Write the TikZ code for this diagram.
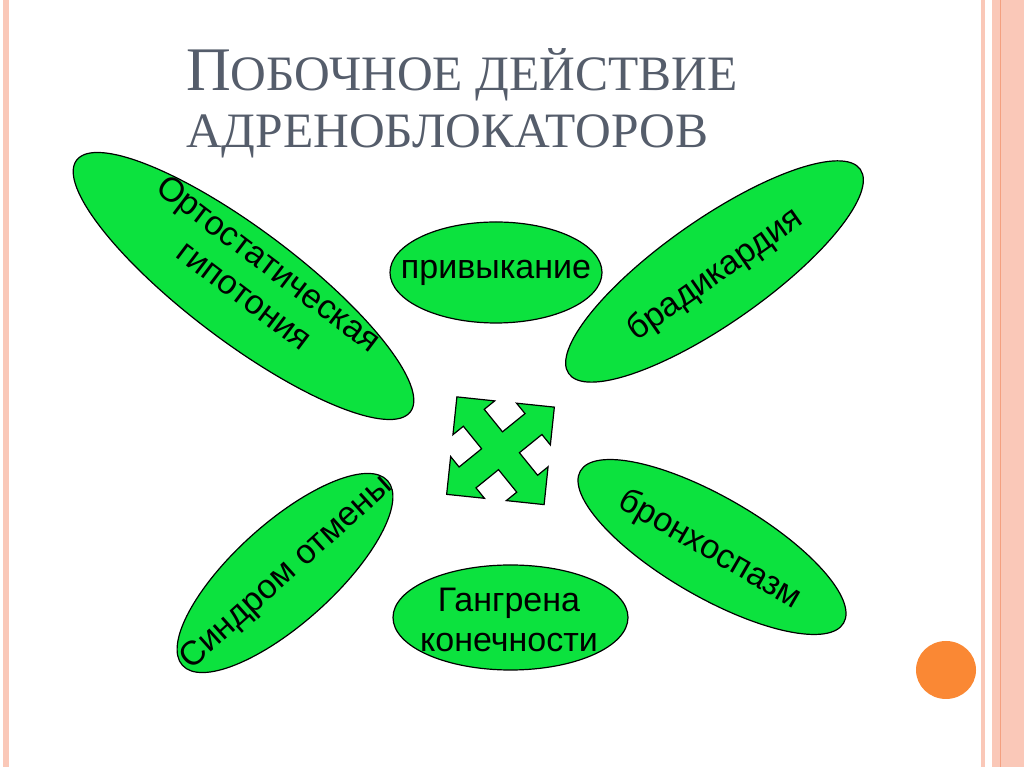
\documentclass[tikz,border=0pt]{standalone}
\usepackage{fontspec}
\setmainfont{Liberation Sans}
\newfontfamily\titlefont{Liberation Serif}
\usetikzlibrary{shapes.geometric}

\definecolor{leaf}{RGB}{12,226,62}
\definecolor{slate}{RGB}{85,93,107}
\definecolor{peach}{RGB}{250,200,184}
\definecolor{rust}{RGB}{244,160,128}
\definecolor{dot}{RGB}{250,136,52}

\tikzset{
  blob/.style={ellipse, draw=black, fill=leaf, line width=1.2pt, inner sep=0pt},
  word/.style={font=\fontsize{34}{40}\selectfont, align=center, inner sep=0pt},
  heading/.style={anchor=base west, text=slate, inner sep=0pt, font=\titlefont},
}

\begin{document}
\begin{tikzpicture}[x=1pt,y=1pt]
        \useasboundingbox (0,0) rectangle (1024,767);
          \fill[white] (0,0) rectangle (1024,767);

          % page edges
          \fill[peach] (3,0) rectangle (9,767);
          \fill[peach] (981,0) rectangle (985,767);
          \fill[peach] (992,0) rectangle (1024,767);
          \draw[rust, line width=1pt] (1000,0) -- (1000,767);
          \fill[dot] (946,97) ellipse [x radius=30, y radius=29];

          \node[heading] (head1) at (186,676) {{\fontsize{62}{62}\selectfont П}\fontsize{49.5}{49.5}\selectfont ОБОЧНОЕ ДЕЙСТВИЕ};
          \node[heading] (head2) at (186,619) {\fontsize{49.5}{49.5}\selectfont АДРЕНОБЛОКАТОРОВ};

          \node[blob, minimum width=418, minimum height=112, rotate=-37] (ortho) at (243.5,481) {};
          \node[word, rotate=-37] (ortho-txt) at (257,488) {Ортостатическая\\гипотония};

          \node[blob, minimum width=212, minimum height=101] (habit) at (496,494.5) {};
          \node[word] (habit-txt) at (habit) {привыкание};

          \node[blob, minimum width=356, minimum height=104, rotate=35] (brady) at (714.5,495.5) {};
          \node[word, rotate=35] (brady-txt) at (715.5,492) {брадикардия};

          \node[blob, minimum width=276, minimum height=100, rotate=42] (withdraw) at (285,194) {};
          \node[word, rotate=42] (withdraw-txt) at (287,194) {Синдром отмены};

          \node[blob, minimum width=304, minimum height=100, rotate=-30] (broncho) at (712,220) {};
          \node[word, rotate=-30] (broncho-txt) at (710,217) {бронхоспазм};

          \node[blob, minimum width=235, minimum height=105] (gangrene) at (510.5,149.5) {};
          \node[word] (gangrene-txt) at (509,147) {Гангрена\\конечности};

          \begin{scope}[shift={(500.5,316.25)}, rotate=-6]
            \filldraw[fill=leaf, draw=black, line width=1.2pt] (-45:69.3)
              \foreach \a in {0,90,180,270}{
                -- (\a-12.65:50.2) -- (\a-27.43:44.5) -- (\a:19)
                -- (\a+27.43:44.5) -- (\a+12.65:50.2) -- (\a+45:69.3)
              } -- cycle;
          \end{scope}
        \end{tikzpicture}
\end{document}
